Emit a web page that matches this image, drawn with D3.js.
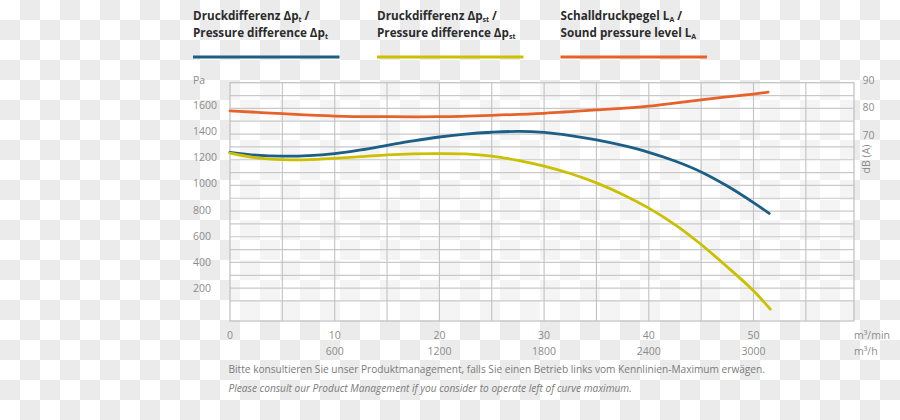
<!DOCTYPE html>
<html><head><meta charset="utf-8">
<script src="https://cdn.jsdelivr.net/npm/d3@7"></script>
<style>
html,body{margin:0;padding:0;background:#fff;}
svg{display:block;font-family:"Open Sans",sans-serif;}
</style></head>
<body>
<svg id="chart" width="900" height="420"></svg>
<script>
// ---- data ----
const flowTicks = [0, 10, 20, 30, 40, 50];            // m³/min
const flowTicksH = [600, 1200, 1800, 2400, 3000];     // m³/h
const paTicks = [200, 400, 600, 800, 1000, 1200, 1400, 1600];
const dbTicks = [70, 80, 90];

const qPt = [0, 2.5, 5, 7.5, 10, 12.5, 15, 17.5, 20, 22.5, 25, 27.5, 30, 32.5, 35, 37.5, 40, 42.5, 45, 47.5, 50, 51.5];
const dpt = [1258, 1236, 1228, 1232, 1248, 1276, 1312, 1347, 1377, 1400, 1414, 1421, 1413, 1388, 1354, 1311, 1258, 1190, 1105, 995, 866, 782];

const qPst = [0, 2.5, 5, 7.5, 10, 12.5, 15, 17.5, 20, 22.5, 25, 27.5, 30, 32.5, 35, 37.5, 40, 42.5, 45, 47.5, 50, 51.6];
const dpst = [1251, 1215, 1201, 1201, 1211, 1224, 1238, 1246, 1248, 1245, 1228, 1195, 1150, 1093, 1020, 930, 823, 695, 540, 365, 180, 36];

const qLa = [0, 5, 10, 15, 20, 25, 30, 35, 40, 45, 50, 51.4];
const la = [78.8, 77.75, 76.9, 76.65, 76.65, 77.15, 77.9, 79.1, 80.5, 82.8, 84.9, 85.6];

const legendDe = ["Druckdifferenz Δp", "Druckdifferenz Δp", "Schalldruckpegel L"];
const legendEn = ["Pressure difference Δp", "Pressure difference Δp", "Sound pressure level L"];
const legendSub = ["t", "st", "A"];
const colors = ["#1b5e86", "#cbc000", "#e6622a"];

const noteDe = "Bitte konsultieren Sie unser Produktmanagement, falls Sie einen Betrieb links vom Kennlinien-Maximum erwägen.";
const noteEn = "Please consult our Product Management if you consider to operate left of curve maximum.";

// ---- layout ----
const svg = d3.select("#chart");
const defs = svg.append("defs");
const pat = defs.append("pattern").attr("id","checker").attr("width",40).attr("height",40).attr("patternUnits","userSpaceOnUse");
pat.append("rect").attr("width",40).attr("height",40).attr("fill","#ffffff");
pat.append("rect").attr("x",20).attr("y",0).attr("width",20).attr("height",20).attr("fill","#ebebeb");
pat.append("rect").attr("x",0).attr("y",20).attr("width",20).attr("height",20).attr("fill","#ebebeb");
svg.append("rect").attr("width",900).attr("height",420).attr("fill","url(#checker)");

const L = 230, R = 854, T = 82.7, B = 321;
const x = d3.scaleLinear().domain([0, 59.6]).range([L, R]);
const y = d3.scaleLinear().domain([-56, 1800]).range([B, T]);
const yLab = d3.scaleLinear().domain([200, 1600]).range([288.3, 105.3]);
const yDb = d3.scaleLinear().domain([70, 90]).range([135, 80]);

// plot background
svg.append("rect").attr("x",L).attr("y",T).attr("width",R-L).attr("height",B-T)
  .attr("fill","#ffffff").attr("fill-opacity",0.45);

// grid
const grid = svg.append("g");
grid.selectAll("line.h").data(d3.range(100, 1800, 100)).join("line")
  .attr("x1",L).attr("x2",R).attr("y1",d=>y(d)).attr("y2",d=>y(d))
  .attr("stroke","#c9c9c9").attr("stroke-width",1.2);
grid.selectAll("line.v").data(d3.range(5, 59, 5)).join("line")
  .attr("y1",T).attr("y2",B).attr("x1",d=>x(d)).attr("x2",d=>x(d))
  .attr("stroke","#c2c2c2").attr("stroke-width",1.1);
svg.append("rect").attr("x",L).attr("y",T).attr("width",R-L).attr("height",B-T)
  .attr("fill","none").attr("stroke","#c4c4c4").attr("stroke-width",1.3);

const tickColor = "#8c8c8c";
// left labels
svg.append("g").selectAll("text").data(paTicks).join("text")
  .attr("x",193).attr("y",d=>yLab(d)).attr("dy","0.35em")
  .attr("font-size",10.5).attr("fill",tickColor).text(d=>d);
svg.append("text").attr("x",193).attr("y",80).attr("dy","0.35em")
  .attr("font-size",10.5).attr("fill",tickColor).text("Pa");

// right labels
svg.append("g").selectAll("text").data(dbTicks).join("text")
  .attr("x",862.5).attr("y",d=>yDb(d)).attr("dy","0.35em")
  .attr("font-size",10.5).attr("fill",tickColor).text(d=>d);
svg.append("text").attr("transform","translate(870,159) rotate(-90)")
  .attr("text-anchor","middle").attr("font-size",10.5).attr("fill",tickColor).text("dB (A)");

// bottom labels
svg.append("g").selectAll("text").data(flowTicks).join("text")
  .attr("x",d=>x(d)).attr("y",335.5).attr("dy","0.35em").attr("text-anchor","middle")
  .attr("font-size",10.5).attr("fill",tickColor).text(d=>d);
svg.append("g").selectAll("text").data(flowTicksH).join("text")
  .attr("x",d=>x(d/60)).attr("y",351.5).attr("dy","0.35em").attr("text-anchor","middle")
  .attr("font-size",10.5).attr("fill",tickColor).text(d=>d);
svg.append("text").attr("x",854).attr("y",335.5).attr("dy","0.35em")
  .attr("font-size",10.5).attr("fill",tickColor).text("m³/min");
svg.append("text").attr("x",854).attr("y",351.5).attr("dy","0.35em")
  .attr("font-size",10.5).attr("fill",tickColor).text("m³/h");

// notes
svg.append("text").attr("x",228.5).attr("y",369.5).attr("dy","0.35em")
  .attr("font-size",10.15).attr("fill","#7a7a7a").text(noteDe);
svg.append("text").attr("x",228.5).attr("y",388).attr("dy","0.35em")
  .attr("font-size",10.15).attr("font-style","italic").attr("fill","#7a7a7a").text(noteEn);

// curves
const lineFn = d3.line().x(d=>x(d[0])).curve(d3.curveCatmullRom.alpha(0.5));
const series = [
  {q:qPt, v:dpt, ys:y},
  {q:qPst, v:dpst, ys:y},
  {q:qLa, v:la, ys:yDb}
];
[2,0,1].forEach(i=>{
  const s = series[i];
  const pts = s.q.map((q,j)=>[q, s.v[j]]);
  svg.append("path").datum(pts)
    .attr("d", lineFn.y(d=>s.ys(d[1])))
    .attr("fill","none").attr("stroke",colors[i]).attr("stroke-width",2.8)
    .attr("stroke-linecap","round");
});

// legend
const legX = [193, 377, 560.5];
const leg = svg.append("g");
legX.forEach((lx,i)=>{
  const t1 = leg.append("text").attr("x",lx).attr("y",19.5).attr("font-size",11.7)
    .attr("font-weight",700).attr("fill","#2b2b2b");
  t1.append("tspan").text(legendDe[i]);
  t1.append("tspan").attr("font-size",7).attr("dy",2).text(legendSub[i]);
  t1.append("tspan").attr("dy",-2).text(" /");
  const t2 = leg.append("text").attr("x",lx).attr("y",37).attr("font-size",11.7)
    .attr("font-weight",700).attr("fill","#2b2b2b");
  t2.append("tspan").text(legendEn[i]);
  t2.append("tspan").attr("font-size",7).attr("dy",2).text(legendSub[i]);
  leg.append("line").attr("x1",lx).attr("x2",lx+146.5).attr("y1",57).attr("y2",57)
    .attr("stroke",colors[i]).attr("stroke-width",3);
});
</script>
</body></html>
